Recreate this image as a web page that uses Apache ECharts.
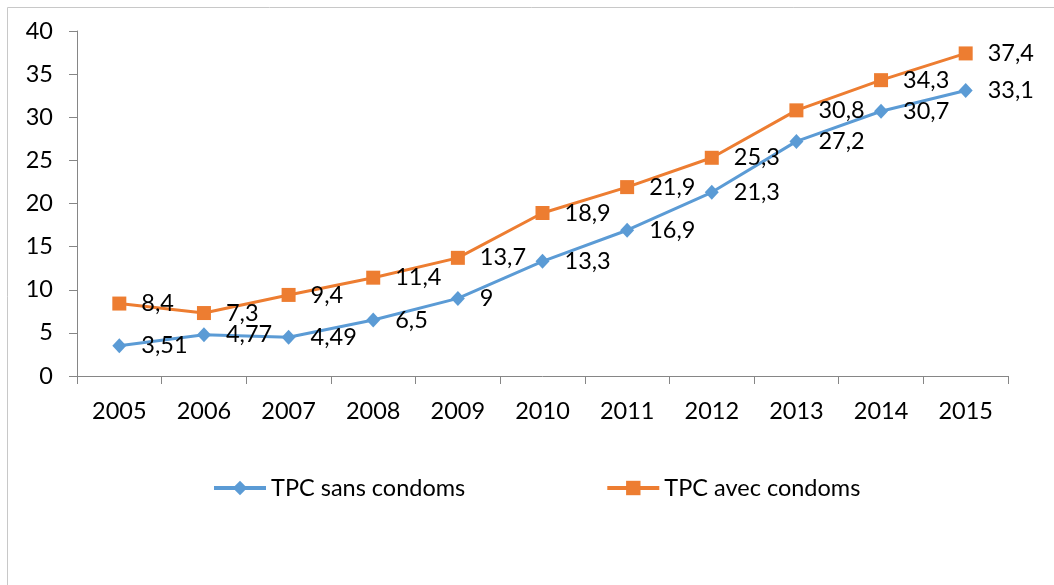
<!DOCTYPE html>
<html>
<head>
<meta charset="utf-8">
<script src="https://cdn.jsdelivr.net/npm/echarts@6/dist/echarts.min.js"></script>
<style>
html,body{margin:0;padding:0;background:#fff;}
#c{width:1054px;height:585px;}
</style>
</head>
<body>
<div id="c"></div>
<script>
const years = ['2005','2006','2007','2008','2009','2010','2011','2012','2013','2014','2015'];
const sansCondoms = [3.51, 4.77, 4.49, 6.5, 9, 13.3, 16.9, 21.3, 27.2, 30.7, 33.1];
const avecCondoms = [8.4, 7.3, 9.4, 11.4, 13.7, 18.9, 21.9, 25.3, 30.8, 34.3, 37.4];
const seriesNames = ['TPC sans condoms', 'TPC avec condoms'];

const FONT = 'Lato';
const FS = 23.5;
const chart = echarts.init(document.getElementById('c'), null, {renderer:'canvas'});
const fmt = p => String(p.value).replace('.', ',');
const labelCfg = {show:true, position:'right', distance:15, formatter:fmt, color:'#000', fontFamily:FONT, fontSize:FS};

chart.setOption({
  animation:false,
  backgroundColor:'#fff',
  textStyle:{fontFamily:FONT},
  graphic:[{type:'rect', shape:{x:7.5,y:7.5,width:1200,height:700}, style:{fill:'none', stroke:'#c8c8c8', lineWidth:1}, silent:true, z:-1}],
  grid:{left:77, right:46, top:31, bottom:209, containLabel:false},
  legend:{
    data:seriesNames, top:471, left:207, itemWidth:52, itemHeight:18, itemGap:140,
    lineStyle:{width:4},
    textStyle:{fontFamily:FONT, fontSize:FS, color:'#000'}
  },
  xAxis:{
    type:'category', data:years, boundaryGap:true,
    axisLine:{lineStyle:{color:'#868686', width:1}},
    axisTick:{show:true, length:8, alignWithLabel:false, lineStyle:{color:'#868686'}},
    axisLabel:{color:'#000', fontFamily:FONT, fontSize:FS, margin:23}
  },
  yAxis:{
    type:'value', min:0, max:40, interval:5,
    axisLine:{show:true, lineStyle:{color:'#868686', width:1}},
    axisTick:{show:true, length:8, lineStyle:{color:'#868686'}},
    splitLine:{show:false},
    axisLabel:{color:'#000', fontFamily:FONT, fontSize:FS, margin:24}
  },
  series:[
    {name:seriesNames[0], type:'line', data:sansCondoms, symbol:'diamond', symbolSize:[14,15],
     lineStyle:{color:'#5B9BD5', width:3}, itemStyle:{color:'#5B9BD5'}, label:labelCfg, z:2},
    {name:seriesNames[1], type:'line', data:avecCondoms, symbol:'rect', symbolSize:14,
     lineStyle:{color:'#ED7D31', width:3}, itemStyle:{color:'#ED7D31'}, label:labelCfg, z:3}
  ]
});
</script>
</body>
</html>
